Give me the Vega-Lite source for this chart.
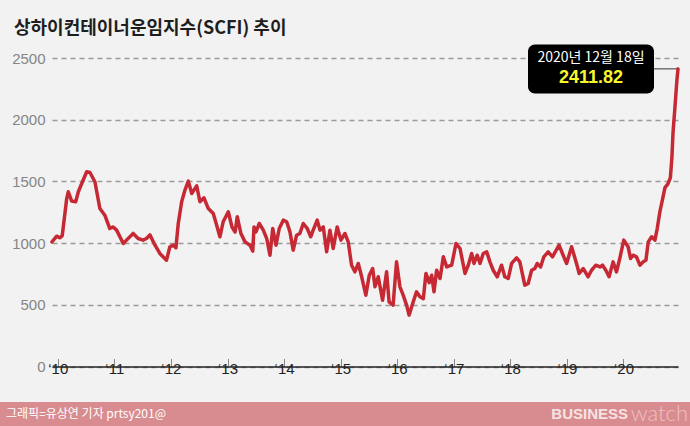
{
  "$schema": "https://vega.github.io/schema/vega-lite/v6.json",
  "background": "#f2f2f2",
  "padding": {"left": 0, "right": 0, "top": 20, "bottom": 0},
  "title": {"text": "상하이컨테이너운임지수(SCFI) 추이", "anchor": "start", "dx": 14, "font": "Noto Sans CJK KR", "fontSize": 18, "fontWeight": "bold", "color": "#1e1e1e", "offset": 6},
  "spacing": 25,
  "datasets": {
    "scfi": [
      {"date": "2009-11-25", "scfi": 1010}, {"date": "2009-12-25", "scfi": 1056}, {"date": "2010-01-16", "scfi": 1043}, {"date": "2010-01-30", "scfi": 1059},
      {"date": "2010-02-28", "scfi": 1361}, {"date": "2010-03-10", "scfi": 1416}, {"date": "2010-04-01", "scfi": 1340}, {"date": "2010-04-27", "scfi": 1335},
      {"date": "2010-05-14", "scfi": 1416}, {"date": "2010-06-05", "scfi": 1483}, {"date": "2010-07-07", "scfi": 1578}, {"date": "2010-07-28", "scfi": 1572},
      {"date": "2010-08-29", "scfi": 1497}, {"date": "2010-09-30", "scfi": 1280}, {"date": "2010-11-01", "scfi": 1226}, {"date": "2010-12-03", "scfi": 1118},
      {"date": "2010-12-25", "scfi": 1131}, {"date": "2011-01-16", "scfi": 1105}, {"date": "2011-02-28", "scfi": 997}, {"date": "2011-03-21", "scfi": 1024},
      {"date": "2011-05-03", "scfi": 1078}, {"date": "2011-06-04", "scfi": 1037}, {"date": "2011-07-06", "scfi": 1024}, {"date": "2011-07-28", "scfi": 1037},
      {"date": "2011-08-19", "scfi": 1067}, {"date": "2011-09-20", "scfi": 985}, {"date": "2011-10-22", "scfi": 916}, {"date": "2011-12-04", "scfi": 861},
      {"date": "2011-12-26", "scfi": 970}, {"date": "2012-01-17", "scfi": 983}, {"date": "2012-02-03", "scfi": 962}, {"date": "2012-02-18", "scfi": 1159},
      {"date": "2012-03-11", "scfi": 1335}, {"date": "2012-04-01", "scfi": 1429}, {"date": "2012-04-23", "scfi": 1502}, {"date": "2012-05-15", "scfi": 1402},
      {"date": "2012-06-16", "scfi": 1464}, {"date": "2012-07-07", "scfi": 1335}, {"date": "2012-08-02", "scfi": 1367}, {"date": "2012-08-30", "scfi": 1280},
      {"date": "2012-10-01", "scfi": 1240}, {"date": "2012-10-23", "scfi": 1145}, {"date": "2012-11-13", "scfi": 1051}, {"date": "2012-12-04", "scfi": 1173},
      {"date": "2013-01-06", "scfi": 1254}, {"date": "2013-01-30", "scfi": 1130}, {"date": "2013-02-19", "scfi": 1090}, {"date": "2013-03-05", "scfi": 1213},
      {"date": "2013-03-28", "scfi": 1080}, {"date": "2013-04-24", "scfi": 1010}, {"date": "2013-05-26", "scfi": 983}, {"date": "2013-06-13", "scfi": 935},
      {"date": "2013-06-21", "scfi": 1131}, {"date": "2013-07-04", "scfi": 1091}, {"date": "2013-07-25", "scfi": 1159}, {"date": "2013-08-20", "scfi": 1105},
      {"date": "2013-09-11", "scfi": 1037}, {"date": "2013-10-02", "scfi": 902}, {"date": "2013-10-20", "scfi": 1118}, {"date": "2013-11-10", "scfi": 983},
      {"date": "2013-12-01", "scfi": 1118}, {"date": "2013-12-27", "scfi": 1186}, {"date": "2014-01-18", "scfi": 1173}, {"date": "2014-02-08", "scfi": 1091},
      {"date": "2014-03-01", "scfi": 943}, {"date": "2014-03-23", "scfi": 1064}, {"date": "2014-04-13", "scfi": 1078}, {"date": "2014-05-05", "scfi": 1159},
      {"date": "2014-05-31", "scfi": 1118}, {"date": "2014-06-22", "scfi": 1051}, {"date": "2014-07-08", "scfi": 1105}, {"date": "2014-08-03", "scfi": 1186},
      {"date": "2014-08-21", "scfi": 1105}, {"date": "2014-09-11", "scfi": 1131}, {"date": "2014-10-03", "scfi": 929}, {"date": "2014-10-24", "scfi": 1105},
      {"date": "2014-11-14", "scfi": 956}, {"date": "2014-12-10", "scfi": 1131}, {"date": "2015-01-03", "scfi": 1024}, {"date": "2015-01-29", "scfi": 1078},
      {"date": "2015-02-19", "scfi": 1010}, {"date": "2015-03-13", "scfi": 821}, {"date": "2015-04-03", "scfi": 767}, {"date": "2015-04-25", "scfi": 835},
      {"date": "2015-05-17", "scfi": 727}, {"date": "2015-06-13", "scfi": 578}, {"date": "2015-07-05", "scfi": 740}, {"date": "2015-07-27", "scfi": 794},
      {"date": "2015-08-11", "scfi": 646}, {"date": "2015-09-01", "scfi": 727}, {"date": "2015-09-29", "scfi": 537}, {"date": "2015-10-25", "scfi": 767},
      {"date": "2015-11-10", "scfi": 524}, {"date": "2015-12-06", "scfi": 497}, {"date": "2015-12-28", "scfi": 848}, {"date": "2016-01-19", "scfi": 646},
      {"date": "2016-02-09", "scfi": 578}, {"date": "2016-03-02", "scfi": 497}, {"date": "2016-03-18", "scfi": 416}, {"date": "2016-04-14", "scfi": 524},
      {"date": "2016-05-05", "scfi": 605}, {"date": "2016-05-27", "scfi": 565}, {"date": "2016-06-18", "scfi": 550}, {"date": "2016-07-05", "scfi": 754},
      {"date": "2016-07-26", "scfi": 680}, {"date": "2016-08-11", "scfi": 740}, {"date": "2016-08-26", "scfi": 605}, {"date": "2016-09-12", "scfi": 780},
      {"date": "2016-10-04", "scfi": 713}, {"date": "2016-10-25", "scfi": 889}, {"date": "2016-11-16", "scfi": 807}, {"date": "2016-12-18", "scfi": 821},
      {"date": "2017-01-15", "scfi": 997}, {"date": "2017-02-10", "scfi": 956}, {"date": "2017-03-14", "scfi": 754}, {"date": "2017-04-04", "scfi": 821},
      {"date": "2017-04-26", "scfi": 916}, {"date": "2017-05-11", "scfi": 835}, {"date": "2017-06-01", "scfi": 902}, {"date": "2017-06-19", "scfi": 835},
      {"date": "2017-07-10", "scfi": 916}, {"date": "2017-08-01", "scfi": 929}, {"date": "2017-08-22", "scfi": 848}, {"date": "2017-09-12", "scfi": 780},
      {"date": "2017-10-08", "scfi": 727}, {"date": "2017-11-05", "scfi": 821}, {"date": "2017-11-26", "scfi": 727}, {"date": "2017-12-18", "scfi": 713},
      {"date": "2018-01-09", "scfi": 835}, {"date": "2018-02-10", "scfi": 881}, {"date": "2018-03-03", "scfi": 848}, {"date": "2018-04-04", "scfi": 659},
      {"date": "2018-04-26", "scfi": 673}, {"date": "2018-05-18", "scfi": 780}, {"date": "2018-06-08", "scfi": 794}, {"date": "2018-06-23", "scfi": 835},
      {"date": "2018-07-15", "scfi": 807}, {"date": "2018-08-05", "scfi": 889}, {"date": "2018-09-02", "scfi": 929}, {"date": "2018-09-30", "scfi": 889},
      {"date": "2018-11-11", "scfi": 983}, {"date": "2018-12-03", "scfi": 916}, {"date": "2018-12-30", "scfi": 835}, {"date": "2019-01-31", "scfi": 970},
      {"date": "2019-03-04", "scfi": 835}, {"date": "2019-03-21", "scfi": 754}, {"date": "2019-04-16", "scfi": 794}, {"date": "2019-05-18", "scfi": 727},
      {"date": "2019-06-09", "scfi": 780}, {"date": "2019-07-07", "scfi": 821}, {"date": "2019-08-02", "scfi": 807}, {"date": "2019-08-19", "scfi": 821},
      {"date": "2019-09-09", "scfi": 780}, {"date": "2019-09-30", "scfi": 727}, {"date": "2019-10-26", "scfi": 848}, {"date": "2019-11-17", "scfi": 767},
      {"date": "2019-12-08", "scfi": 875}, {"date": "2020-01-03", "scfi": 1024}, {"date": "2020-01-31", "scfi": 970}, {"date": "2020-02-16", "scfi": 875},
      {"date": "2020-03-03", "scfi": 902}, {"date": "2020-03-25", "scfi": 889}, {"date": "2020-04-16", "scfi": 821}, {"date": "2020-05-07", "scfi": 848},
      {"date": "2020-05-25", "scfi": 861}, {"date": "2020-06-09", "scfi": 1010}, {"date": "2020-07-01", "scfi": 1051}, {"date": "2020-07-22", "scfi": 1024},
      {"date": "2020-08-06", "scfi": 1118}, {"date": "2020-08-23", "scfi": 1254}, {"date": "2020-09-10", "scfi": 1361}, {"date": "2020-09-25", "scfi": 1450},
      {"date": "2020-10-14", "scfi": 1480}, {"date": "2020-10-30", "scfi": 1530}, {"date": "2020-11-09", "scfi": 1700}, {"date": "2020-11-16", "scfi": 1900},
      {"date": "2020-11-27", "scfi": 2080}, {"date": "2020-12-04", "scfi": 2200}, {"date": "2020-12-11", "scfi": 2320}, {"date": "2020-12-18", "scfi": 2411.82}
    ],
    "note": [
      {"date": "2020-12-18", "scfi": 2411.82, "label": "2020년 12월 18일", "value": "2411.82"}
    ],
    "footer": [
      {"part": "credit", "text": "그래픽=유상연 기자 prtsy201@"},
      {"part": "logo", "text": "BUSINESS"},
      {"part": "logo", "text": "watch"}
    ]
  },
  "vconcat": [
    {
      "width": 690,
      "height": 308.5,
      "layer": [
        {
          "data": {"name": "note"},
          "mark": {"type": "rule", "color": "#333333", "strokeWidth": 1, "xOffset": -24},
          "encoding": {
            "x": {"field": "date", "type": "temporal"},
            "x2": {"field": "date"},
            "y": {"field": "scfi", "type": "quantitative"}
          }
        },
        {
          "data": {"name": "scfi"},
          "mark": {"type": "line", "color": "#c62834", "strokeWidth": 3.5, "strokeJoin": "round", "strokeCap": "round"},
          "encoding": {
            "x": {
              "field": "date", "type": "temporal",
              "scale": {"type": "utc", "range": [52, 678], "padding": 0, "domain": [{"year": 2009, "month": 11, "date": 25, "utc": true}, {"year": 2020, "month": 12, "date": 18, "utc": true}]},
              "axis": {
                "title": null, "grid": false,
                "tickCount": {"interval": "year", "step": 1},
                "labelExpr": "'‘' + utcFormat(datum.value, '%y')",
                "domainColor": "#222222", "domainWidth": 1.5,
                "tickColor": "#888888", "tickSize": -8, "tickWidth": 1,
                "labelPadding": 3, "labelFlush": false,
                "labelFont": "Liberation Sans", "labelFontSize": 15, "labelColor": "#222222"
              }
            },
            "y": {
              "field": "scfi", "type": "quantitative",
              "scale": {"domain": [0, 2500], "padding": 0, "nice": false},
              "axis": {
                "title": null, "values": [0, 500, 1000, 1500, 2000, 2500], "format": "d",
                "grid": true, "gridDash": [5, 4], "gridColor": "#9a9a9a", "gridWidth": 1.3,
                "domain": false, "ticks": false, "labelPadding": 7, "offset": -52, "minExtent": 0,
                "labelFont": "Liberation Sans", "labelFontSize": 15, "labelColor": "#858585"
              }
            }
          }
        },
        {
          "data": {"name": "note"},
          "mark": {"type": "rect", "color": "#000000", "cornerRadius": 7, "xOffset": -150, "x2Offset": -24, "yOffset": -24.5, "y2Offset": 24.5},
          "encoding": {
            "x": {"field": "date", "type": "temporal"},
            "x2": {"field": "date"},
            "y": {"field": "scfi", "type": "quantitative"},
            "y2": {"field": "scfi"}
          }
        },
        {
          "data": {"name": "note"},
          "mark": {"type": "text", "color": "#ffffff", "font": "Noto Sans CJK KR", "fontSize": 14, "align": "center", "baseline": "middle", "dx": -87, "dy": -11},
          "encoding": {
            "x": {"field": "date", "type": "temporal"},
            "y": {"field": "scfi", "type": "quantitative"},
            "text": {"field": "label"}
          }
        },
        {
          "data": {"name": "note"},
          "mark": {"type": "text", "color": "#f7f72a", "font": "Liberation Sans", "fontSize": 18, "fontWeight": "bold", "align": "center", "baseline": "middle", "dx": -87, "dy": 9},
          "encoding": {
            "x": {"field": "date", "type": "temporal"},
            "y": {"field": "scfi", "type": "quantitative"},
            "text": {"field": "value"}
          }
        }
      ]
    },
    {
      "width": 690,
      "height": 24,
      "view": {"fill": "#d98c8f", "stroke": null},
      "data": {"name": "footer"},
      "encoding": {
        "x": {"field": "part", "type": "nominal", "scale": {"type": "point", "domain": ["credit", "logo"], "range": [6, 688], "padding": 0}, "axis": null}
      },
      "layer": [
        {
          "transform": [{"filter": "datum.part === 'credit'"}],
          "mark": {"type": "text", "align": "left", "baseline": "middle", "font": "Noto Sans CJK KR", "fontSize": 12, "color": "#ffffff"},
          "encoding": {"text": {"field": "text"}}
        },
        {
          "transform": [{"filter": "datum.text === 'BUSINESS'"}],
          "mark": {"type": "text", "align": "right", "baseline": "middle", "font": "Liberation Sans", "fontSize": 15, "fontWeight": "bold", "color": "#f6e3e3", "dx": -60},
          "encoding": {"text": {"field": "text"}}
        },
        {
          "transform": [{"filter": "datum.text === 'watch'"}],
          "mark": {"type": "text", "align": "right", "baseline": "middle", "font": "Lato", "fontSize": 22, "fontWeight": 300, "color": "#eec0c1"},
          "encoding": {"text": {"field": "text"}}
        }
      ]
    }
  ],
  "config": {"view": {"stroke": null}, "font": "Liberation Sans"}
}
